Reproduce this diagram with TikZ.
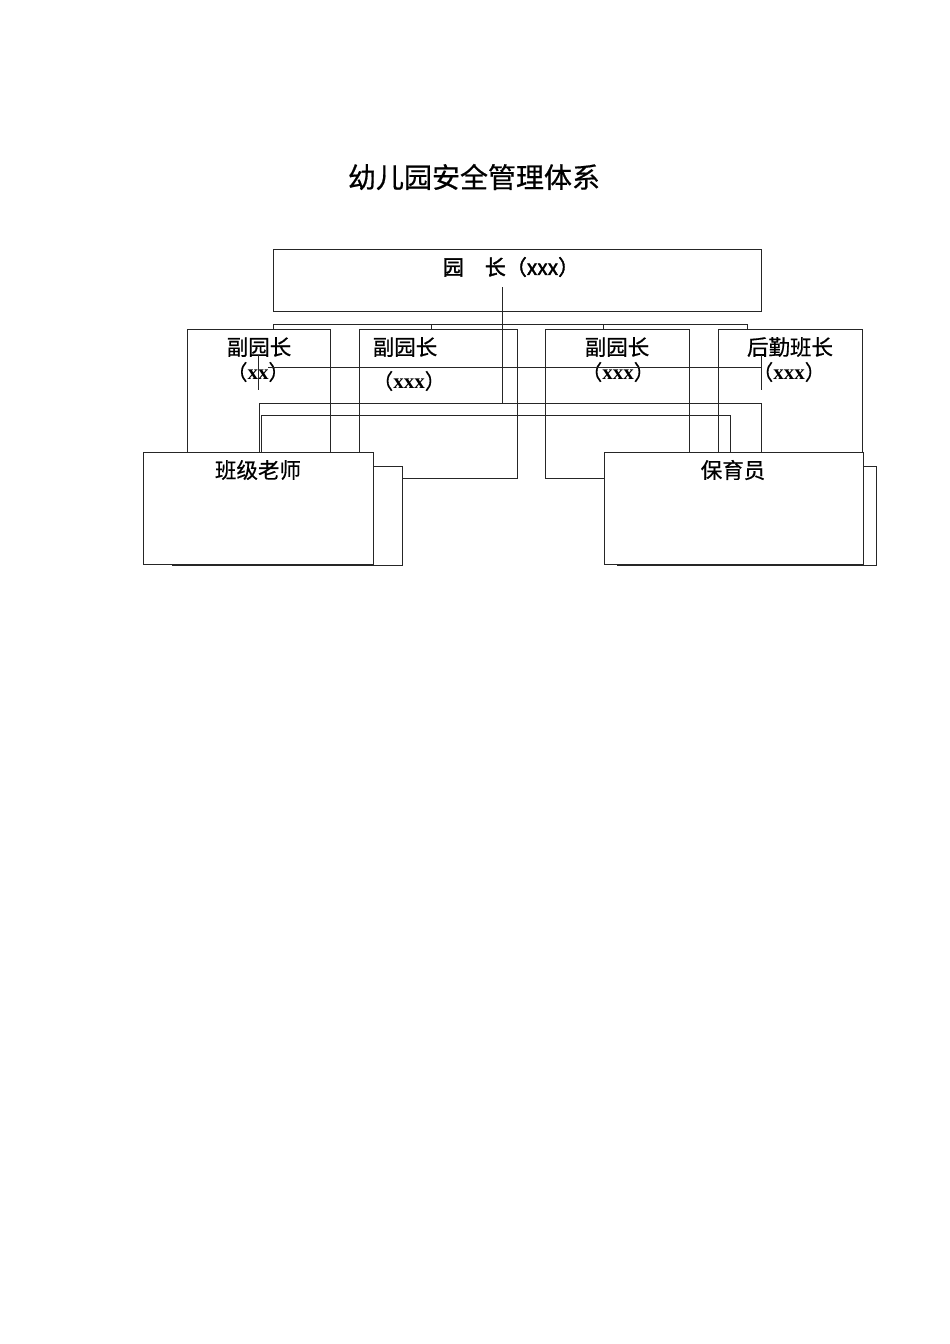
\documentclass[tikz,border=0pt]{standalone}
\usepackage{fontspec}
\setmainfont{Liberation Serif}
\newfontfamily\cjk[FakeBold=0.6]{Noto Sans CJK SC}
\newfontfamily\cjkb[FakeBold=1.8]{Noto Sans CJK SC}
\newfontfamily\serifb{Liberation Serif Bold}
\begin{document}
\begin{tikzpicture}[x=1pt,y=-1pt,
  ln/.style={draw=black!85, line width=1pt},
  box/.style={ln, rectangle, inner sep=0pt, anchor=north west},
  wbox/.style={box, fill=white},
  lbl/.style={inner sep=0pt, anchor=center, text=black},
  ]
\fill[white] (0,0) rectangle (950,1344);
\useasboundingbox (0,0) rectangle (950,1344);
% title
\node[lbl] (title) at (474,177) {\cjk\fontsize{28}{30}\selectfont 幼儿园安全管理体系};
% top box
\node[box, minimum width=488pt, minimum height=62pt] (top) at (273,249) {};
\node[lbl] (toptext) at (511,267) {\cjkb\fontsize{21}{24}\selectfont 园　长（xxx）};
% four boxes
\node[box, minimum width=143pt, minimum height=149pt] (b1) at (187,329) {};
\node[box, minimum width=158pt, minimum height=149pt] (b2) at (359,329) {};
\node[box, minimum width=144pt, minimum height=149pt] (b3) at (545,329) {};
\node[box, minimum width=144pt, minimum height=149pt] (b4) at (718,329) {};
\node[lbl] (b1a) at (259,347) {\cjk\fontsize{21.5}{24}\selectfont 副园长};
\node[lbl] (b1b) at (258,372) {\cjk\fontsize{21}{24}\selectfont （\serifb xx\cjk ）};
\node[lbl] (b2a) at (405,347) {\cjk\fontsize{21.5}{24}\selectfont 副园长};
\node[lbl] (b2b) at (409,381) {\cjk\fontsize{21}{24}\selectfont （\serifb xxx\cjk ）};
\node[lbl] (b3a) at (617,347) {\cjk\fontsize{21.5}{24}\selectfont 副园长};
\node[lbl] (b3b) at (618,372) {\cjk\fontsize{21}{24}\selectfont （\serifb xxx\cjk ）};
\node[lbl] (b4a) at (790,347) {\cjk\fontsize{21.5}{24}\selectfont 后勤班长};
\node[lbl] (b4b) at (789,372) {\cjk\fontsize{21}{24}\selectfont （\serifb xxx\cjk ）};
% coordinates
\coordinate (br4) at (747,329);
\coordinate (bt1) at (431,329);
\coordinate (bt3) at (603,329);
\coordinate (tv) at (502,287);
\coordinate (h1a) at (268,367);
\coordinate (h1b) at (761,367);
\coordinate (l1a) at (258,355);
\coordinate (l1b) at (258,390);
\coordinate (r1a) at (761,355);
\coordinate (r1b) at (761,390);
\coordinate (h2a) at (259,403);
\coordinate (h2b) at (761,403);
\coordinate (h3a) at (261,415);
\coordinate (h3b) at (730,415);
% bracket
\draw[ln] (273,329) -- (273,324) -- (747,324) -- (br4);
\draw[ln] (431,324) -- (bt1);
\draw[ln] (603,324) -- (bt3);
% top vertical
\draw[ln] (tv) -- (502,403);
% cross lines
\draw[ln] (h1a) -- (h1b);
\draw[ln] (l1a) -- (l1b);
\draw[ln] (r1a) -- (r1b);
\draw[ln] (h2a) -- (h2b) -- (761,452);
\draw[ln] (h2a) -- (259,452);
\draw[ln] (h3a) -- (h3b) -- (730,452);
\draw[ln] (h3a) -- (261,452);
% teacher boxes with shadows
\node[wbox, minimum width=230pt, minimum height=99pt] (t1s) at (172,466) {};
\node[wbox, minimum width=230pt, minimum height=112pt] (t1) at (143,452) {};
\node[lbl] (t1t) at (258,470) {\cjk\fontsize{21.5}{24}\selectfont 班级老师};
\node[wbox, minimum width=259pt, minimum height=99pt] (t2s) at (617,466) {};
\node[wbox, minimum width=259pt, minimum height=112pt] (t2) at (604,452) {};
\node[lbl] (t2t) at (733,470) {\cjk\fontsize{21.5}{24}\selectfont 保育员};
\end{tikzpicture}
\end{document}
